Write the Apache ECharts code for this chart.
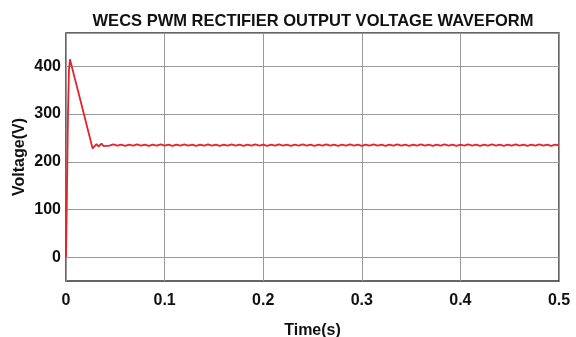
<!DOCTYPE html>
<html>
<head>
<meta charset="utf-8">
<script src="https://cdn.jsdelivr.net/npm/echarts@6/dist/echarts.min.js"></script>
<style>
  html, body { margin: 0; padding: 0; background: #fff; }
  #chart { width: 576px; height: 337px; }
</style>
</head>
<body>
<div id="chart"></div>
<script>
const titleText = 'WECS PWM RECTIFIER OUTPUT VOLTAGE WAVEFORM'
const xName = 'Time(s)'
const yName = 'Voltage(V)'
const xTicks = [0, 0.1, 0.2, 0.3, 0.4, 0.5]
const yTicks = [0, 100, 200, 300, 400]

// start-up transient: [time, voltage]
const transient = [
  [0, 0], [0.001, 140], [0.002, 300], [0.003, 392], [0.004, 415],
  [0.010, 366], [0.015, 326], [0.020, 285], [0.025, 244],
  [0.027, 228], [0.029, 231], [0.031, 237], [0.033, 232], [0.036, 238],
  [0.038, 233]
]
// steady state with ripple
const steady = [
  [0.040, 236], [0.044, 234], [0.048, 236.5], [0.052, 234], [0.056, 236],
  [0.060, 233.5], [0.064, 236], [0.068, 234], [0.072, 236.5], [0.076, 234],
  [0.080, 236], [0.084, 233.5], [0.088, 236], [0.092, 234], [0.096, 236.5],
  [0.100, 234], [0.104, 236], [0.108, 233.5], [0.112, 236], [0.116, 234],
  [0.120, 236.5], [0.124, 234], [0.128, 236], [0.132, 233.5], [0.136, 236],
  [0.140, 234], [0.144, 236.5], [0.148, 234], [0.152, 236], [0.156, 233.5],
  [0.160, 236], [0.164, 234], [0.168, 236.5], [0.172, 234], [0.176, 236],
  [0.180, 233.5], [0.184, 236], [0.188, 234], [0.192, 236.5], [0.196, 234],
  [0.200, 236], [0.204, 233.5], [0.208, 236], [0.212, 234], [0.216, 236.5],
  [0.220, 234], [0.224, 236], [0.228, 233.5], [0.232, 236], [0.236, 234],
  [0.240, 236.5], [0.244, 234], [0.248, 236], [0.252, 233.5], [0.256, 236],
  [0.260, 234], [0.264, 236.5], [0.268, 234], [0.272, 236], [0.276, 233.5],
  [0.280, 236], [0.284, 234], [0.288, 236.5], [0.292, 234], [0.296, 236],
  [0.300, 233.5], [0.304, 236], [0.308, 234], [0.312, 236.5], [0.316, 234],
  [0.320, 236], [0.324, 233.5], [0.328, 236], [0.332, 234], [0.336, 236.5],
  [0.340, 234], [0.344, 236], [0.348, 233.5], [0.352, 236], [0.356, 234],
  [0.360, 236.5], [0.364, 234], [0.368, 236], [0.372, 233.5], [0.376, 236],
  [0.380, 234], [0.384, 236.5], [0.388, 234], [0.392, 236], [0.396, 233.5],
  [0.400, 236], [0.404, 234], [0.408, 236.5], [0.412, 234], [0.416, 236],
  [0.420, 233.5], [0.424, 236], [0.428, 234], [0.432, 236.5], [0.436, 234],
  [0.440, 236], [0.444, 233.5], [0.448, 236], [0.452, 234], [0.456, 236.5],
  [0.460, 234], [0.464, 236], [0.468, 233.5], [0.472, 236], [0.476, 234],
  [0.480, 236.5], [0.484, 234], [0.488, 236], [0.492, 233.5], [0.496, 236],
  [0.500, 234.5]
]

const font = 'Liberation Sans, Arial, sans-serif'
const chart = echarts.init(document.getElementById('chart'))
chart.setOption({
  backgroundColor: '#fff',
  animation: false,
  title: {
    text: titleText,
    left: 308,
    textAlign: 'center',
    top: 8,
    textStyle: { fontFamily: font, fontWeight: 'bold', fontSize: 16.5, color: '#111' }
  },
  grid: {
    left: 66, right: 17, top: 33, bottom: 56,
    outerBoundsMode: 'none',
    show: true, borderColor: '#333', borderWidth: 1.5, backgroundColor: '#fff'
  },
  xAxis: {
    type: 'value',
    min: 0,
    max: 0.5,
    interval: 0.1,
    name: xName,
    nameLocation: 'middle',
    nameGap: 42,
    nameMoveOverlap: false,
    nameTextStyle: { fontFamily: font, fontWeight: 'bold', fontSize: 16, color: '#111' },
    axisLine: { show: false },
    axisTick: { show: false },
    axisLabel: {
      margin: 12,
      fontFamily: font, fontWeight: 'bold', fontSize: 16, color: '#111',
      formatter: v => xTicks.some(t => Math.abs(t - v) < 1e-9) ? String(+v.toFixed(1)) : ''
    },
    splitLine: { show: true, lineStyle: { color: '#999', width: 1 } }
  },
  yAxis: {
    type: 'value',
    min: -50,
    max: 470,
    interval: 50,
    name: yName,
    nameLocation: 'middle',
    nameGap: 38,
    nameRotate: 90,
    nameMoveOverlap: false,
    nameTextStyle: { fontFamily: font, fontWeight: 'bold', fontSize: 16, color: '#111' },
    axisLine: { show: false },
    axisTick: { show: false },
    axisLabel: {
      margin: 5,
      fontFamily: font, fontWeight: 'bold', fontSize: 16, color: '#111',
      formatter: v => yTicks.indexOf(Math.round(v)) >= 0 && Math.abs(v - Math.round(v)) < 1e-9 ? String(v) : ''
    },
    splitLine: { show: true, lineStyle: { color: ['rgba(0,0,0,0)', '#999'], width: 1 } }
  },
  series: [{
    type: 'line',
    data: transient.concat(steady),
    showSymbol: false,
    symbol: 'none',
    lineStyle: { color: '#e3242b', width: 1.8 },
    z: 3
  }]
})
</script>
</body>
</html>
